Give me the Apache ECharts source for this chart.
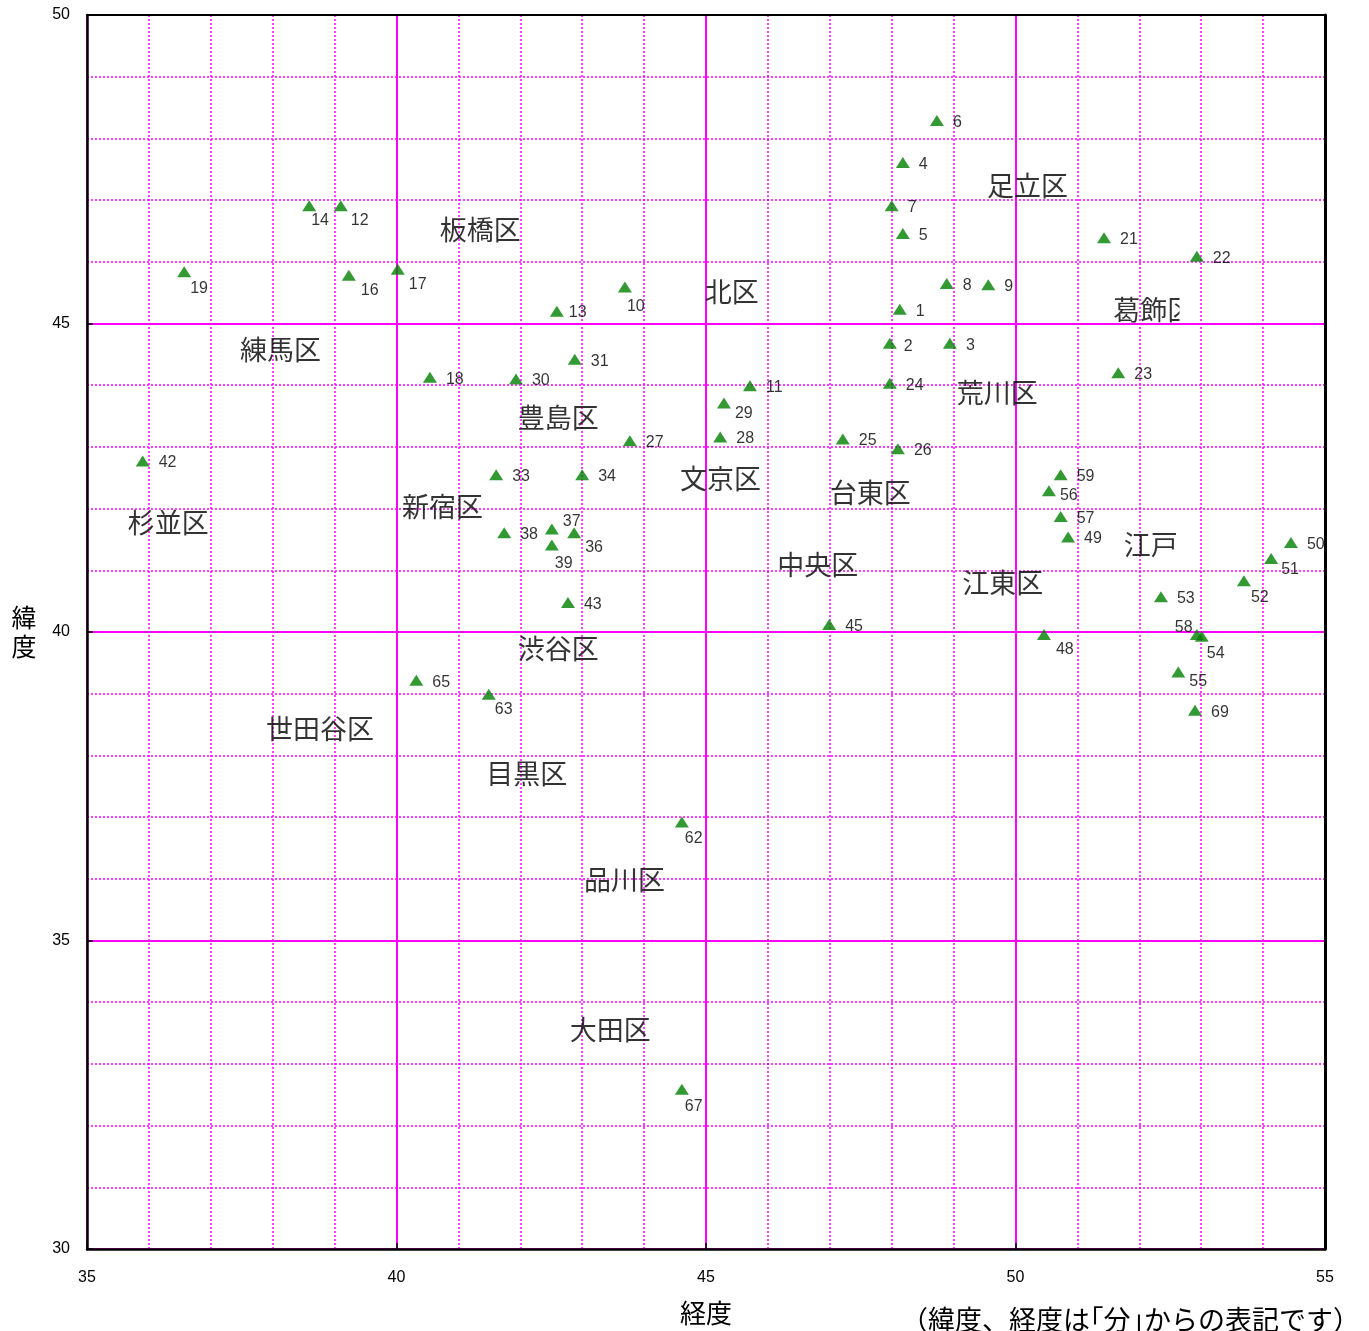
<!DOCTYPE html>
<html>
<head>
<meta charset="utf-8">
<script src="https://cdn.jsdelivr.net/npm/echarts@6/dist/echarts.min.js"></script>
<style>
html,body{margin:0;padding:0;background:#fff;overflow:hidden;}
#chart{width:1369px;height:1331px;}
</style>
</head>
<body>
<div id="chart"></div>
<script>
// ---- data ----
const pointIds = [1,2,3,4,5,6,7,8,9,10,11,12,13,14,16,17,18,19,21,22,23,24,25,26,27,28,29,30,31,33,34,36,37,38,39,42,43,45,48,49,50,51,52,53,54,55,56,57,58,59,62,63,65,67,69];
const pointLon = [48.13,47.97,48.94,48.18,48.18,48.73,48.0,48.89,49.56,43.69,45.71,39.10,42.59,38.59,39.23,40.02,40.54,36.57,51.43,52.93,51.66,47.97,47.21,48.10,43.77,45.23,45.29,41.93,42.88,41.61,43.0,42.87,42.51,41.74,42.51,35.90,42.77,46.99,50.46,50.85,54.45,54.13,53.69,52.35,53.01,52.63,50.54,50.73,52.93,50.73,44.61,41.49,40.32,44.61,52.90];
const pointLat = [45.23,44.68,44.68,47.61,46.46,48.29,46.91,45.65,45.63,45.59,43.99,46.91,45.20,46.91,45.78,45.88,44.13,45.84,46.39,46.09,44.20,44.03,43.13,42.97,43.10,43.16,43.71,44.10,44.42,42.55,42.55,41.61,41.67,41.61,41.41,42.77,40.48,40.12,39.96,41.54,41.45,41.19,40.83,40.57,39.93,39.35,42.29,41.87,39.96,42.55,36.92,38.99,39.22,32.59,38.73];

const wardNames = ['足立区','板橋区','北区','葛飾区','練馬区','荒川区','豊島区','文京区','台東区','新宿区','杉並区','江戸','中央区','江東区','渋谷区','世田谷区','目黒区','品川区','大田区'];
const wardLon = [49.54,40.70,44.98,51.58,37.47,49.05,41.96,44.58,47.00,40.09,35.66,51.75,46.15,49.14,41.96,37.89,41.45,43.03,42.80];
const wardLat = [47.24,46.52,45.52,45.23,44.58,43.87,43.48,42.48,42.26,42.03,41.77,41.41,41.09,40.80,39.73,38.44,37.70,35.98,33.56];

const xTicks = [35,40,45,50,55];
const yTicks = [30,35,40,45,50];

// ---- label placement (style only) ----
const defaultLabelOffset = [16, 2];
const labelOffsets = {2:[14,3],10:[2,19],12:[10,15],13:[12,1],14:[2,15],16:[12,15],17:[11,15],19:[6,17],29:[11,11],36:[11,15],37:[11,-7],39:[3,19],48:[12,15],51:[10,11],52:[7,17],54:[5,17],55:[11,9],56:[11,5],58:[-22,-7],62:[3,17],63:[6,15],67:[3,17]};

const MAG = '#ff00ff';
const NUMFONT = '"Liberation Sans", Arial, sans-serif';
const JPFONT = '"Noto Sans CJK JP", sans-serif';

const chart = echarts.init(document.getElementById('chart'), null, {renderer:'canvas'});

const pts = pointIds.map((id, i) => ({
  value: [pointLon[i], pointLat[i]],
  name: String(id),
  label: { offset: labelOffsets[id] || defaultLabelOffset }
}));
const wards = wardNames.map((n, i) => ({ value: [wardLon[i], wardLat[i]], name: n }));

const GRID = {left: 87, top: 15, width: 1238, height: 1237};

function mainAxis(min, max) {
  return {
    type: 'value', min: min, max: max, interval: 5,
    axisLine: {show: true, onZero: false, lineStyle: {color: '#000', width: 2.5}},
    axisTick: {show: true, inside: true, length: 6, lineStyle: {color: '#000', width: 1.5}},
    axisLabel: {fontSize: 16, color: '#000', fontFamily: NUMFONT},
    splitLine: {show: true, lineStyle: {color: MAG, width: 2, type: 'solid'}},
    minorTick: {show: true, splitNumber: 5, length: 0, lineStyle: {opacity: 0}},
    minorSplitLine: {show: true, lineStyle: {color: MAG, width: 1.5, type: [2, 2]}}
  };
}
function frameAxis(min, max, pos) {
  return {
    type: 'value', min: min, max: max, position: pos,
    axisLine: {show: true, onZero: false, lineStyle: {color: '#000', width: pos === 'right' ? 3 : 2}},
    axisTick: {show: false}, axisLabel: {show: false}, splitLine: {show: false}
  };
}

const xa = mainAxis(35, 55);
xa.axisLabel.margin = 21;
xa.axisLabel.formatter = v => xTicks.indexOf(v) >= 0 ? String(v) : '';
xa.name = '経度';
xa.nameLocation = 'middle';
xa.nameGap = 51;
xa.nameTextStyle = {fontSize: 26, color: '#000', fontFamily: JPFONT};

const ya = mainAxis(30, 50);
ya.axisLabel.margin = 17;
ya.axisLabel.padding = [4, 0, 0, 0];
ya.axisLabel.formatter = v => yTicks.indexOf(v) >= 0 ? String(v) : '';
ya.name = '緯\n度';
ya.nameLocation = 'middle';
ya.nameRotate = 0;
ya.nameGap = 63;
ya.nameTextStyle = {fontSize: 25, color: '#000', fontFamily: JPFONT, lineHeight: 29, align: 'center'};

const noteText = {
  type: 'text', left: 901, top: 1306, z: 10,
  style: {text: '（緯度、経度は｢分｣からの表記です）', fill: '#000', font: '27px ' + JPFONT}
};

chart.setOption({
  backgroundColor: '#fff',
  animation: false,
  grid: GRID,
  xAxis: [xa, frameAxis(35, 55, 'top')],
  yAxis: [ya, frameAxis(30, 50, 'right')],
  series: [
    {
      type: 'scatter', xAxisIndex: 0, yAxisIndex: 0,
      symbol: 'triangle', symbolSize: [14, 11],
      itemStyle: {color: '#008000'},
      z: 5,
      label: {
        show: true, position: 'inside', align: 'left', verticalAlign: 'middle',
        formatter: p => p.name, color: '#000', fontSize: 16, fontFamily: NUMFONT
      },
      data: pts
    },
    {
      type: 'scatter', xAxisIndex: 0, yAxisIndex: 0,
      symbolSize: 0, silent: true, z: 6,
      label: {
        show: true, position: 'inside', align: 'left', verticalAlign: 'middle',
        formatter: p => p.name, color: '#000', fontSize: 27, fontFamily: JPFONT
      },
      data: wards
    }
  ],
  graphic: [noteText]
});

// mask the clipped part of the 葛飾区 label, as in the reference
const p1 = chart.convertToPixel({gridIndex: 0}, [52.65, 45.5]);
const p2 = chart.convertToPixel({gridIndex: 0}, [52.94, 45.0]);
chart.setOption({
  graphic: [
    noteText,
    {
      type: 'rect', z: 100, silent: true,
      shape: {x: p1[0], y: p1[1], width: p2[0] - p1[0], height: p2[1] - p1[1] - 1.2},
      style: {fill: '#fff'}
    }
  ]
});
</script>
</body>
</html>
